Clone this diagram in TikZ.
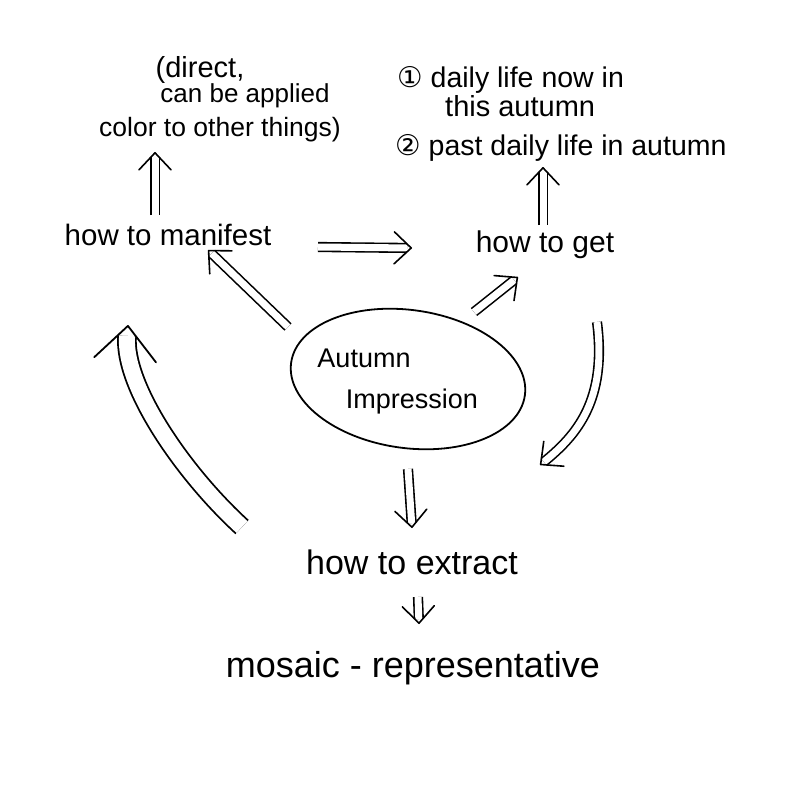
\documentclass[tikz,border=0pt]{standalone}
\usepackage{fontspec}
\setmainfont{Liberation Sans}
\newfontfamily\dv{DejaVu Sans}
\usetikzlibrary{arrows.meta,shapes.geometric,calc,decorations.markings}
\newcommand{\fs}[1]{\fontsize{#1}{#1}\selectfont}
\begin{document}
\begin{tikzpicture}[x=1pt,y=-1pt,
  txt/.style={inner sep=0pt},
  dbl/.style={double, double distance=7pt, line width=1.6pt, shorten >=5pt,
    postaction={decorate, decoration={markings, mark=at position 1 with {\arrow[line width=1.6pt]{Straight Barb[length=17pt,width=32pt,round]}}}}},
  bigdbl/.style={double, double distance=16pt, line width=1.8pt, shorten >=11pt,
    postaction={decorate, decoration={markings, mark=at position 1 with {\arrow[line width=1.8pt]{Straight Barb[length=34pt,width=62pt,round]}}}}},
  eggline/.style={draw, ellipse, line width=1.8pt, minimum width=236pt, minimum height=138pt}
]
\useasboundingbox (0,0) rectangle (800,800);

% top left notes
\node[txt,font=\fs{29}] (direct) at (200,70) {(direct,};
\node[txt,font=\fs{26}] (applied) at (245,96) {can be applied};
\node[txt,font=\fs{26.5}] (color) at (220,130) {color to other things)};

% top right notes
\node[txt,font=\fs{28.5},anchor=west] (d1) at (397,80) {{\dv ①} daily life now in};
\node[txt,font=\fs{29},anchor=west] (d1b) at (445,106) {this autumn};
\node[txt,font=\fs{28.5},anchor=west] (d2) at (395,148) {{\dv ②} past daily life in autumn};

% main nodes
\node[txt,font=\fs{29.5}] (manifest) at (168,235) {how to manifest};
\node[txt,font=\fs{30}] (get) at (545,245) {how to get};
\node[eggline, rotate=-8] (imp) at (408,379) {};
\node[txt,font=\fs{27}] (aut) at (364,358) {Autumn};
\node[txt,font=\fs{27}] (impr) at (412,402) {Impression};
\node[txt,font=\fs{34}] (extract) at (412,562) {how to extract};
\node[txt,font=\fs{36}] (mosaic) at (413,668) {mosaic - representative};

% arrows
\draw[dbl] ([xshift=-13pt,yshift=20pt]manifest.center) -- ([xshift=-65pt,yshift=-22pt]color.center);
\draw[dbl] ([xshift=150pt,yshift=-12pt]manifest.center) -- ([xshift=-133pt,yshift=-3pt]get.center);
\draw[dbl] ([xshift=-2pt,yshift=20pt]get.center) -- ([xshift=148pt,yshift=-19pt]d2.west);
\draw[dbl] ([xshift=-120pt,yshift=52pt]imp.center) -- ([xshift=40pt,yshift=-15pt]manifest.center);
\draw[dbl] ([xshift=66pt,yshift=67pt]imp.center) -- ([xshift=-27pt,yshift=-32pt]get.center);
\draw[dbl] ([xshift=52pt,yshift=-77pt]get.center) .. controls +(10,78) and +(37,-30) .. ([xshift=128pt,yshift=97pt]extract.center);
\draw[dbl] ([yshift=-90pt]imp.center) -- ([yshift=34pt]extract.center);
\draw[dbl] ([xshift=6pt,yshift=-35pt]extract.center) -- ([xshift=6pt,yshift=44pt]mosaic.center);
\draw[bigdbl] ([xshift=-170pt,yshift=35pt]extract.center) .. controls +(-60,-55) and +(-5,60) .. ([xshift=-40pt,yshift=-90pt]manifest.center);
\end{tikzpicture}
\end{document}
